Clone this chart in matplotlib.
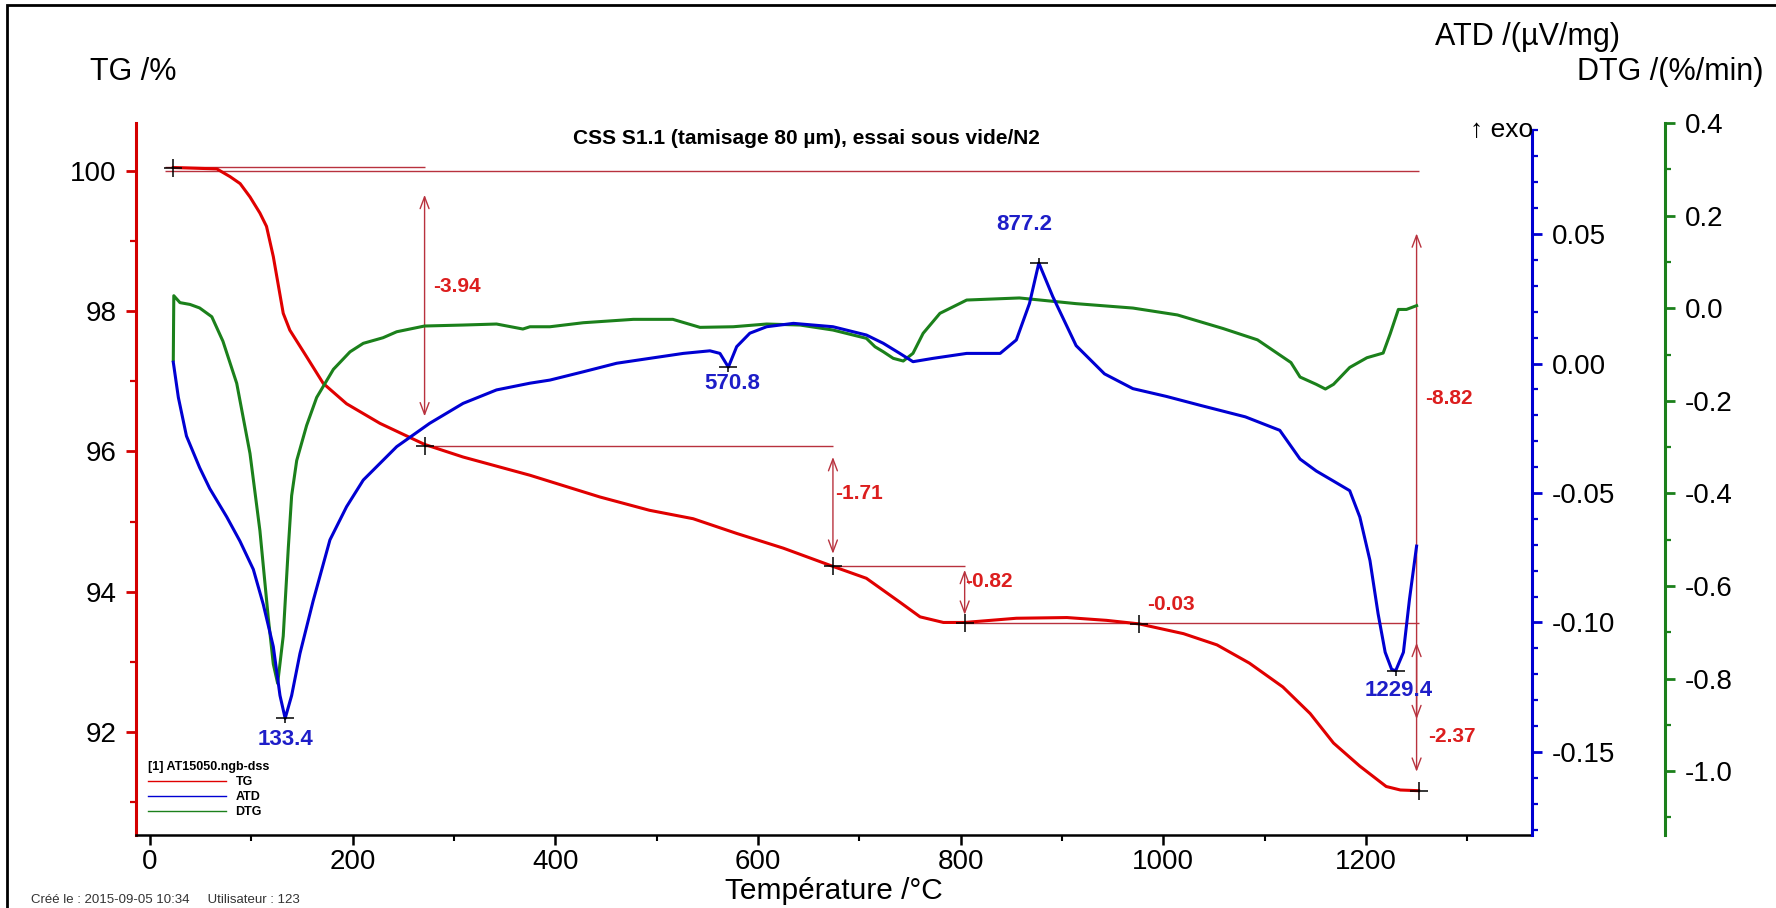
import matplotlib
matplotlib.use("Agg")
import matplotlib.pyplot as plt
from matplotlib.lines import Line2D
from matplotlib.path import Path
from matplotlib.patches import Rectangle
from matplotlib.ticker import MultipleLocator, FormatStrFormatter

plt.rcParams['font.family'] = ['Liberation Sans', 'DejaVu Sans']
plt.rcParams['axes.unicode_minus'] = False

# TG /%  (temperature in °C)
tg_T = [23, 66, 79, 89, 98.7, 108.5, 115, 121.7, 131.5, 138, 154.6, 171, 194, 227,
        271, 309, 375, 395, 444, 493, 536, 579, 625, 674, 707, 740, 760, 783, 804,
        855, 905, 944, 976, 1020, 1053, 1085, 1118, 1145, 1168, 1194, 1220, 1234, 1252]
tg_val = [100.05, 100.03, 99.92, 99.82, 99.63, 99.40, 99.21, 98.78, 97.97, 97.73, 97.35,
          96.97, 96.68, 96.40, 96.10, 95.92, 95.66, 95.57, 95.35, 95.16, 95.04, 94.83,
          94.62, 94.36, 94.19, 93.85, 93.64, 93.56, 93.56, 93.62, 93.63, 93.59, 93.54,
          93.40, 93.24, 92.98, 92.64, 92.26, 91.84, 91.51, 91.22, 91.17, 91.16]

# ATD /(µV/mg)
atd_T = [23, 28, 36, 49, 59, 75.7, 88.8, 102, 111.8, 121.7, 128.3, 133.4, 139.8, 148, 161,
         177.6, 194, 210.5, 243.5, 276, 309, 342, 375, 394.7, 427.6, 460.6, 493.4, 526.3,
         552.6, 562.5, 570.8, 579, 592, 608.6, 635, 674, 707, 723.7, 740, 753, 773, 806,
         839, 855, 868, 877.2, 891, 914, 942, 970, 1003, 1037, 1081, 1115, 1135, 1151,
         1168, 1184, 1194, 1204, 1212, 1219, 1225.4, 1229.4, 1237, 1243, 1250]
atd_val = [0.0005, -0.0131, -0.0280, -0.0402, -0.0483, -0.0592, -0.0686, -0.0795, -0.0930,
           -0.1093, -0.1282, -0.1370, -0.1282, -0.1120, -0.0917, -0.0681, -0.0553, -0.0450,
           -0.0321, -0.0231, -0.0154, -0.0102, -0.0076, -0.0064, -0.0032, 0.0001, 0.0020,
           0.0039, 0.0049, 0.0039, -0.0014, 0.0065, 0.0117, 0.0142, 0.0155, 0.0142, 0.0110,
           0.0078, 0.0039, 0.0007, 0.0020, 0.0039, 0.0039, 0.0091, 0.0232, 0.0388, 0.0258,
           0.0069, -0.0040, -0.0097, -0.0127, -0.0162, -0.0206, -0.0258, -0.0369, -0.0415,
           -0.0454, -0.0491, -0.0593, -0.0761, -0.0966, -0.1115, -0.1181, -0.1186, -0.1115,
           -0.0910, -0.0705]

# DTG /(%/min)
dtg_T = [23, 23.5, 29.6, 39.5, 49, 61, 72, 85.6, 98.7, 108.5, 116.8, 121.7, 126, 131.5,
         136.5, 139.8, 144.8, 154.6, 164.5, 181, 197.4, 210.5, 230, 243.5, 271, 309, 342,
         368, 375, 394.7, 427.6, 477, 516, 542.8, 575.6, 608.6, 641.5, 674, 707, 715.5,
         723.7, 733.5, 743.4, 753, 763, 779.6, 806, 858, 914, 970, 1014, 1059, 1093, 1126,
         1135, 1151, 1160, 1168, 1184, 1201, 1217, 1224, 1232, 1240, 1250]
dtg_val = [-0.112, 0.027, 0.0121, 0.0082, 0.0006, -0.0184, -0.0713, -0.1622, -0.3138,
           -0.4806, -0.6700, -0.7685, -0.8102, -0.708, -0.5179, -0.4048, -0.3289, -0.2531,
           -0.1927, -0.1320, -0.0942, -0.0758, -0.0637, -0.0508, -0.0384, -0.0363, -0.0341,
           -0.0449, -0.0400, -0.0400, -0.0313, -0.0240, -0.0240, -0.0413, -0.0400, -0.0341,
           -0.0363, -0.0471, -0.0650, -0.0832, -0.0940, -0.1082, -0.1140, -0.0974, -0.0542,
           -0.0110, 0.0177, 0.0222, 0.0099, 0.0004, -0.0145, -0.0438, -0.0683, -0.1173,
           -0.1486, -0.1644, -0.1745, -0.1644, -0.1279, -0.1069, -0.0968, -0.0549, -0.0026,
           -0.0026, 0.0056]

# mass-loss step evaluation (TG)
step_T = [23, 271, 674, 804, 976, 1252]
step_TG = [100.04, 96.08, 94.36, 93.55, 93.54, 91.16]
step_text = ['-3.94', '-1.71', '-0.82', '-0.03', '-8.82', '-2.37']
step_text_T = [279, 676, 804, 984, 1258, 1261]
step_text_TG = [98.35, 95.40, 94.14, 93.81, 96.75, 91.94]
arrow_T = [271, 674, 804, 1250, 1250]
arrow_top = [99.66, 95.92, 94.31, 99.11, 93.27]
arrow_bot = [96.50, 94.54, 93.67, 92.18, 91.43]

# ATD peak temperatures
peak_T = [133.4, 570.8, 877.2, 1229.4]
peak_ATD = [-0.1370, -0.0014, 0.0388, -0.1186]
peak_kind = ['min', 'min', 'max', 'min']

red = '#e00000'
blue = '#0000d2'
green = '#1b801b'
ann = '#b8323e'

W, H = 1776, 908
fig = plt.figure(figsize=(W / 100, H / 100), dpi=100)
ax = fig.add_axes([136 / W, 1 - 835 / H, 1396 / W, 712 / H])
ax3 = ax.twinx()
ax2 = ax.twinx()

# TG
ax.plot(tg_T, tg_val, color=red, lw=2.2, zorder=3)
ax.hlines([step_TG[0] + 0.02, 100.0, step_TG[1], step_TG[2], step_TG[3]],
          [15, 15, step_T[1], step_T[2], step_T[3]],
          [step_T[1], step_T[5], step_T[2], step_T[3], step_T[5]],
          color=ann, lw=1, zorder=2)
for x, y1, y2 in zip(arrow_T, arrow_top, arrow_bot):
    ax.annotate('', xy=(x, y2), xytext=(x, y1),
                arrowprops=dict(arrowstyle='<->,head_length=0.85,head_width=0.32',
                                color=ann, lw=1, shrinkA=0, shrinkB=0))
ax.plot(step_T, step_TG, ls='none', marker='+', ms=13, mew=1.1, color='black', zorder=5)
for t, x, y in zip(step_text, step_text_T, step_text_TG):
    ax.text(x, y, t, color='#dc1e1e', fontsize=15, fontweight='bold', ha='left', va='center')

ax.set_xlim(-13.8, 1363.9)
ax.set_ylim(90.528, 100.685)

# DTG
ax3.plot(dtg_T, dtg_val, color=green, lw=2.2)
ax3.set_ylim(-1.1378, 0.4001)

# ATD
ax2.plot(atd_T, atd_val, color=blue, lw=2.2)
ax2.set_ylim(-0.18205, 0.09286)
down_tick = Path([(-1, 0), (1, 0), (0, 0), (0, -0.5)],
                 [Path.MOVETO, Path.LINETO, Path.MOVETO, Path.LINETO])
up_tick = Path([(-1, 0), (1, 0), (0, 0), (0, 0.5)],
               [Path.MOVETO, Path.LINETO, Path.MOVETO, Path.LINETO])
label_dx = [0, 4, -14, 3]
label_dy = [-15, -12, 28, -14]
for t, v, k, dx, dy in zip(peak_T, peak_ATD, peak_kind, label_dx, label_dy):
    ax2.plot([t], [v], ls='none', marker=down_tick if k == 'min' else up_tick,
             ms=13, mew=1.1, color='black', zorder=5)
    ax2.annotate(f'{t:.1f}', xy=(t + dx, v), xytext=(0, dy), textcoords='offset points',
                 color='#1e1ec8', fontsize=16, fontweight='bold', ha='center', va='center')

# spines and ticks
for a in (ax, ax2, ax3):
    a.spines['top'].set_visible(False)
ax.spines['right'].set_visible(False)
ax.spines['left'].set_color('#d40000')
ax.spines['left'].set_linewidth(2.2)
ax.spines['bottom'].set_linewidth(1.8)
for a in (ax2, ax3):
    a.spines['left'].set_visible(False)
    a.spines['bottom'].set_visible(False)
ax2.spines['right'].set_color(blue)
ax2.spines['right'].set_linewidth(2.2)
ax2.spines['right'].set_bounds(-0.18205, 0.0902)
ax3.spines['right'].set_position(('axes', 1.0953))
ax3.spines['right'].set_color(green)
ax3.spines['right'].set_linewidth(2.2)

ax.xaxis.set_major_locator(MultipleLocator(200))
ax.xaxis.set_minor_locator(MultipleLocator(100))
ax.yaxis.set_major_locator(MultipleLocator(2))
ax.yaxis.set_minor_locator(MultipleLocator(1))
ax2.yaxis.set_major_locator(MultipleLocator(0.05))
ax2.yaxis.set_minor_locator(MultipleLocator(0.01))
ax2.yaxis.set_major_formatter(FormatStrFormatter('%.2f'))
ax3.yaxis.set_major_locator(MultipleLocator(0.2))
ax3.yaxis.set_minor_locator(MultipleLocator(0.1))
ax3.yaxis.set_major_formatter(FormatStrFormatter('%.1f'))

ax.tick_params(axis='x', which='major', direction='out', length=7, width=1.8,
               labelsize=20, pad=3)
ax.tick_params(axis='x', which='minor', direction='out', length=4, width=1.5)
for a, c in ((ax, '#d40000'), (ax2, blue), (ax3, green)):
    a.tick_params(axis='y', which='major', direction='out', length=7, width=2,
                  colors=c, labelcolor='black', labelsize=20, pad=7)
    a.tick_params(axis='y', which='minor', direction='out', length=4, width=1.6, colors=c)

ax.set_xlabel('Température /°C', fontsize=21.5, va='center')
ax.xaxis.set_label_coords(0.5, (835 - 891) / 712)

fig.text(90 / W, 1 - 72 / H, 'TG /%', fontsize=22, ha='left', va='center')
fig.text(1620 / W, 1 - 37 / H, 'ATD /(µV/mg)', fontsize=22, ha='right', va='center')
fig.text(1763 / W, 1 - 72 / H, 'DTG /(%/min)', fontsize=22, ha='right', va='center')
fig.text(1533 / W, 1 - 130 / H, '↑ exo', fontsize=19, ha='right', va='center')
fig.text(806 / W, 1 - 138 / H, 'CSS S1.1 (tamisage 80 µm), essai sous vide/N2',
         fontsize=15, fontweight='bold', ha='center', va='center')
fig.text(31 / W, 1 - 906 / H, 'Créé le : 2015-09-05 10:34     Utilisateur : 123',
         fontsize=9.5, color='#333333', ha='left', va='bottom')

handles = [Line2D([], [], color=red, lw=1), Line2D([], [], color=blue, lw=1),
           Line2D([], [], color=green, lw=1)]
fig.legend(handles, ['TG', 'ATD', 'DTG'], loc='upper left',
           bbox_to_anchor=(148 / W, 1 - 761 / H), frameon=False,
           prop={'weight': 'bold', 'size': 9}, title='[1] AT15050.ngb-dss',
           title_fontproperties={'weight': 'bold', 'size': 9}, handlelength=6.2,
           handletextpad=0.8, labelspacing=0.25, borderpad=0, borderaxespad=0,
           alignment='left')

fig.add_artist(Rectangle((7 / W, -0.02), 1.1, 1 - 5 / H + 0.02, transform=fig.transFigure,
                         fill=False, lw=2, ec='black'))

fig.savefig('out.png', dpi=100)
